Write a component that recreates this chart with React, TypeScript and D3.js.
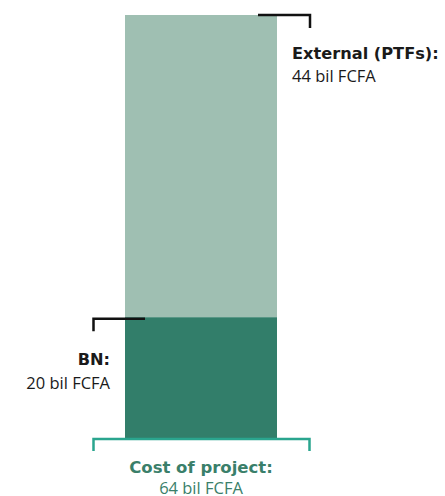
import React from "react";
import { scaleLinear, scaleBand } from "d3";

const segments = ["BN", "External (PTFs)"];
const segmentValues = [20, 44];
const segmentLabels = ["20 bil FCFA", "44 bil FCFA"];
const totalLabel = "Cost of project:";
const totalValue = "64 bil FCFA";

const W = 445;
const H = 496;
const colors = ["#327e6a", "#9fbfb2"];
const boldFont = "'DejaVu Sans', sans-serif";
const font = "'Open Sans', sans-serif";

export default function App() {
  const total = segmentValues[0] + segmentValues[1];
  // the original graphic does not start the bar at zero exactly
  const y = scaleLinear().domain([2.4, total]).range([438, 15]);
  const x = scaleBand().domain(["project"]).range([125, 277]).padding(0);
  const x0 = x("project")!;
  const bw = x.bandwidth();
  const cx = x0 + bw / 2;

  const bnTop = y(segmentValues[0]);
  const extTop = y(total);
  const bottom = y(2.4);

  return (
    <svg
      width={W}
      height={H}
      style={{ position: "absolute", left: 0, top: 0, background: "#fff" }}
    >
      {/* stacked bar */}
      <rect x={x0} y={bnTop} width={bw} height={bottom - bnTop} fill={colors[0]} />
      <rect x={x0} y={extTop} width={bw} height={bnTop - extTop} fill={colors[1]} />

      {/* external bracket */}
      <path
        d={`M${x0 + bw - 19},${extTop} H${x0 + bw + 33} V${extTop + 13}`}
        fill="none"
        stroke="#111"
        strokeWidth={2.5}
      />
      <text x={292} y={59} fontSize={16.2} fontWeight={700} fill="#1a1a1a" fontFamily={boldFont}>
        {segments[1]}:
      </text>
      <text x={292} y={82} fontSize={16.5} fill="#1a1a1a" fontFamily={font}>
        {segmentLabels[1]}
      </text>

      {/* BN bracket */}
      <path
        d={`M${x0 + 20},${bnTop + 1.5} H${x0 - 31.5} V${bnTop + 14}`}
        fill="none"
        stroke="#111"
        strokeWidth={2.5}
      />
      <text x={110} y={365} fontSize={16.2} fontWeight={700} fill="#1a1a1a" textAnchor="end" fontFamily={boldFont}>
        {segments[0]}:
      </text>
      <text x={110} y={389} fontSize={16.5} fill="#1a1a1a" textAnchor="end" fontFamily={font}>
        {segmentLabels[0]}
      </text>

      {/* total bracket */}
      <path
        d={`M${x0 - 31.5},${bottom + 13} V${bottom + 1} H${x0 + bw + 32.5} V${bottom + 13}`}
        fill="none"
        stroke="#2aa58e"
        strokeWidth={2.5}
      />
      <text x={cx} y={473} fontSize={16.5} fontWeight={700} fill="#3a7f6a" textAnchor="middle" fontFamily={boldFont}>
        {totalLabel}
      </text>
      <text x={cx} y={494} fontSize={16.5} fill="#3a7f6a" textAnchor="middle" fontFamily={font}>
        {totalValue}
      </text>
    </svg>
  );
}
